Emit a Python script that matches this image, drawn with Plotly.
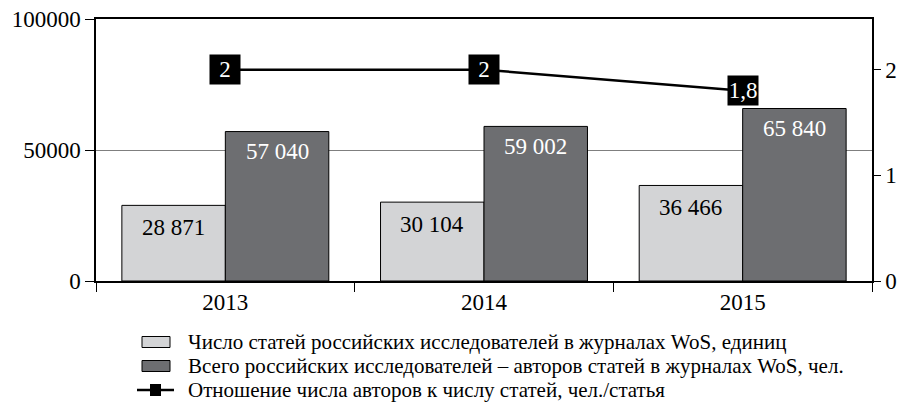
import plotly.graph_objects as go

years = ["2013", "2014", "2015"]
articles = [28871, 30104, 36466]
authors = [57040, 59002, 65840]
ratio = [2.0, 2.0, 1.8]
ratio_labels = ["2", "2", "1,8"]

name_articles = "Число статей российских исследователей в журналах WoS, единиц"
name_authors = "Всего российских исследователей – авторов статей в журналах WoS, чел."
name_ratio = "Отношение числа авторов к числу статей, чел./статья"

FONT = "Liberation Serif"
LIGHT = "#d3d4d6"
DARK = "#6d6e71"

W, H = 900, 404
ML, MR, MT, MB = 96, 28, 19, 123
PW, PH = W - ML - MR, H - MT - MB


def px(xp):  # pixel x -> paper x
    return (xp - ML) / PW


def py(yp):  # pixel y -> paper y
    return (H - MB - yp) / PH


def fmt(v):
    return f"{v:,}".replace(",", " ")


fig = go.Figure()
fig.add_trace(go.Bar(
    x=years, y=articles, name=name_articles, showlegend=False,
    marker=dict(color=LIGHT, line=dict(color="black", width=1)),
))
fig.add_trace(go.Bar(
    x=years, y=authors, name=name_authors, showlegend=False,
    marker=dict(color=DARK, line=dict(color="black", width=1)),
))
fig.add_trace(go.Scatter(
    x=years, y=ratio, name=name_ratio, yaxis="y2", showlegend=False,
    mode="lines+markers",
    line=dict(color="black", width=2.5),
    marker=dict(symbol="square", size=12, color="black"),
))

annotations = []
for i, (a, b) in enumerate(zip(articles, authors)):
    annotations.append(dict(x=i - 0.2, y=a, xref="x", yref="y", text=fmt(a),
                            showarrow=False, yshift=-22,
                            font=dict(family=FONT, size=23, color="black")))
    annotations.append(dict(x=i + 0.2, y=b, xref="x", yref="y", text=fmt(b),
                            showarrow=False, yshift=-20,
                            font=dict(family=FONT, size=23, color="white")))
for i, (r, lab) in enumerate(zip(ratio, ratio_labels)):
    annotations.append(dict(x=i, y=r, xref="x", yref="y2", text=lab,
                            showarrow=False, bgcolor="black", borderpad=0,
                            width=30, height=29,
                            font=dict(family=FONT, size=23, color="white")))

# legend drawn below the plot
shapes = []
legend_rows = [(342, name_articles, "box", LIGHT),
               (366, name_authors, "box", DARK),
               (390, name_ratio, "line", "black")]
for yc, text, kind, col in legend_rows:
    if kind == "box":
        shapes.append(dict(type="rect", xref="paper", yref="paper",
                           x0=px(142), x1=px(170), y0=py(yc - 5.5), y1=py(yc + 5.5),
                           fillcolor=col, line=dict(color="black", width=1)))
    else:
        shapes.append(dict(type="line", xref="paper", yref="paper",
                           x0=px(137), x1=px(174), y0=py(yc), y1=py(yc),
                           line=dict(color="black", width=2.5)))
        shapes.append(dict(type="rect", xref="paper", yref="paper",
                           x0=px(150), x1=px(161), y0=py(yc - 6), y1=py(yc + 6),
                           fillcolor="black", line=dict(color="black", width=0)))
    annotations.append(dict(x=px(186), y=py(yc), xref="paper", yref="paper",
                            xanchor="left", yanchor="middle", text=text,
                            showarrow=False,
                            font=dict(family=FONT, size=21, color="black")))

fig.update_layout(
    template="none",
    width=W, height=H,
    margin=dict(l=ML, r=MR, t=MT, b=MB, autoexpand=False),
    paper_bgcolor="white", plot_bgcolor="white",
    font=dict(family=FONT, size=23, color="black"),
    barmode="group", bargap=0.2, bargroupgap=0,
    showlegend=False,
    xaxis=dict(type="category", tickson="boundaries", ticks="outside",
               ticklen=9, tickcolor="black", showline=True, linecolor="black",
               linewidth=1.5, mirror=True, showgrid=False, automargin=False,
               tickfont=dict(family=FONT, size=23)),
    yaxis=dict(range=[0, 100000], tickvals=[0, 50000, 100000], tickformat="d",
               ticks="outside", ticklen=9, tickcolor="black", showline=True,
               linecolor="black", linewidth=1.5, showgrid=True,
               gridcolor="#7f7f7f", gridwidth=1, zeroline=False,
               ticklabeloverflow="allow",
               automargin=False, tickfont=dict(family=FONT, size=23)),
    yaxis2=dict(range=[0, 2.48], tickvals=[0, 1, 2], overlaying="y",
                side="right", ticks="outside", ticklen=7, tickcolor="black",
                showline=True, linecolor="black", linewidth=1.5,
                showgrid=False, zeroline=False, automargin=False,
                ticklabeloverflow="allow",
                tickfont=dict(family=FONT, size=23)),
    annotations=annotations,
    shapes=shapes,
)

fig.write_html("out.html",
               config={"displayModeBar": False},
               post_script="document.body.style.margin='0';"
                           "document.body.style.overflow='hidden';")
